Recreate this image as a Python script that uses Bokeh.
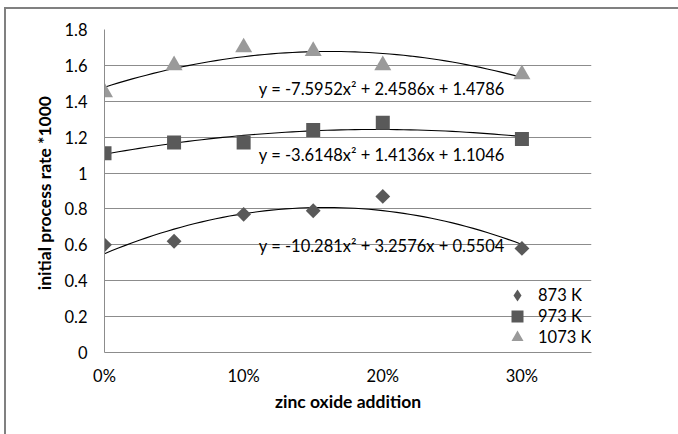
import numpy as np
from bokeh.plotting import figure
from bokeh.models import (Range1d, FixedTicker, CustomJSTickFormatter, Legend, LegendItem,
                          Label, InlineStyleSheet)
from bokeh.embed import file_html
from bokeh.resources import INLINE

zinc = [0.0, 0.05, 0.10, 0.15, 0.20, 0.30]
rate_873 = [0.60, 0.62, 0.77, 0.79, 0.87, 0.58]
rate_973 = [1.11, 1.17, 1.17, 1.24, 1.28, 1.19]
rate_1073 = [1.45, 1.60, 1.70, 1.68, 1.60, 1.55]
series_names = ["873 K", "973 K", "1073 K"]
# trendline coefficients (a, b, c)
coef_873 = [-10.281, 3.2576, 0.5504]
coef_973 = [-3.6148, 1.4136, 1.1046]
coef_1073 = [-7.5952, 2.4586, 1.4786]
eq_labels = ["y = -10.281x² + 3.2576x + 0.5504",
             "y = -3.6148x² + 1.4136x + 1.1046",
             "y = -7.5952x² + 2.4586x + 1.4786"]
eq_label_y = [0.591, 1.098, 1.471]
eq_label_x = 0.2876
x_ticks = [0.0, 0.1, 0.2, 0.3]
y_ticks = [0, 0.2, 0.4, 0.6, 0.8, 1.0, 1.2, 1.4, 1.6, 1.8]

FONT = "Lato"
GRID = "#8c8c8c"
DARK = "#595959"
LIGHT = "#9a9a9a"

p = figure(width=678, height=434, output_backend="svg", toolbar_location=None,
           x_range=Range1d(0, 0.35), y_range=Range1d(0, 1.8),
           min_border_left=104, min_border_right=87, min_border_top=29, min_border_bottom=82)
p.frame_width = 487
p.frame_height = 323
p.outline_line_color = None
p.background_fill_color = "white"
p.border_fill_color = "white"

# outer chart border (partly outside the window)
p.stylesheets = [InlineStyleSheet(css="""
:host { position: relative; overflow: hidden; }
:host::after { content: ''; position: absolute; left: 4px; top: 7px; width: 2000px; height: 2000px;
  border: 2px solid #808080; pointer-events: none; box-sizing: border-box; z-index: 10; }
""")]

p.xgrid.grid_line_color = None
p.ygrid.grid_line_color = GRID
p.ygrid.grid_line_width = 1
p.yaxis.ticker = FixedTicker(ticks=y_ticks)
p.xaxis.ticker = FixedTicker(ticks=x_ticks)
p.yaxis.formatter = CustomJSTickFormatter(code="return (Math.round(tick*10)/10).toString();")
p.xaxis.formatter = CustomJSTickFormatter(code="return Math.round(tick*100) + '%';")

for ax in (p.xaxis[0], p.yaxis[0]):
    ax.major_tick_line_color = None
    ax.minor_tick_line_color = None
    ax.axis_line_color = GRID
    ax.major_label_text_font = FONT
    ax.major_label_text_font_size = "16.5px"
    ax.major_label_text_color = "#000000"
    ax.axis_label_text_font = FONT
    ax.axis_label_text_font_size = "17.5px"
    ax.axis_label_text_font_style = "bold"
    ax.axis_label_text_color = "#000000"

p.yaxis.major_label_standoff = 11
p.xaxis.major_label_standoff = 7
p.xaxis.axis_label = "zinc oxide addition"
p.yaxis.axis_label = "initial  process rate *1000"
p.xaxis.axis_label_standoff = 2
p.yaxis.axis_label_standoff = 6

# trendlines
xs = np.linspace(0, 0.30, 61)
for coef in (coef_873, coef_973, coef_1073):
    p.line(xs, np.polyval(coef, xs), line_color="black", line_width=1.1)

r1 = p.scatter(zinc, rate_873, marker="square", angle=np.pi/4, size=10.5, fill_color=DARK, line_color=None)
r2 = p.scatter(zinc, rate_973, marker="square", size=14, fill_color=DARK, line_color=None)
r3 = p.scatter(zinc, rate_1073, marker="triangle", size=17, fill_color=LIGHT, line_color=None)
# legend-only diamond renderer (holds no visible data)
r1_leg = p.scatter(x=[np.nan], y=[np.nan], marker="diamond", size=13, fill_color=DARK, line_color=None)

for t, yv in zip(eq_labels, eq_label_y):
    p.add_layout(Label(x=eq_label_x, y=yv, text=t, text_font=FONT, text_font_size="16.5px",
                       text_color="#000000", text_baseline="middle", text_align="right"))

# one legend per entry so that legend markers can be larger than the row pitch
for name, rend, ly in zip(series_names, [r1_leg, r2, r3], [42, 21, 0]):
    lg = Legend(items=[LegendItem(label=name, renderers=[rend])],
                location=(398, ly), padding=0, margin=0, spacing=0,
                glyph_width=30, glyph_height=30, label_height=21, label_standoff=6,
                label_text_font=FONT, label_text_font_size="16.5px", label_text_color="#000000",
                border_line_color=None, background_fill_alpha=0)
    p.add_layout(lg)

open("out.html", "w").write(file_html(p, INLINE))
